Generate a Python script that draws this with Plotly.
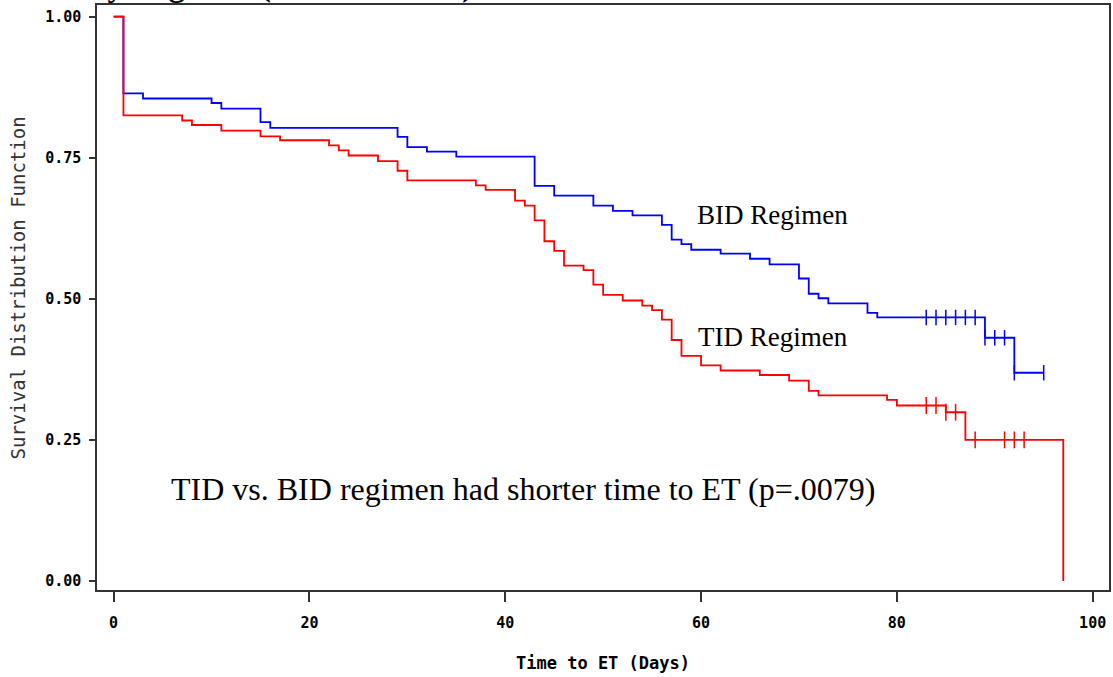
import plotly.graph_objects as go

# Kaplan-Meier step estimates, BID regimen
bid_days = [0, 1, 3, 10, 11, 15, 16, 29, 30, 32, 35, 43, 45, 49, 51, 53, 56, 57, 58, 59,
            62, 65, 67, 70, 71, 72, 73, 77, 78, 89, 92, 95]
bid_surv = [1.0, 0.864, 0.855, 0.847, 0.837, 0.813, 0.803, 0.787, 0.769, 0.761, 0.752,
            0.700, 0.683, 0.665, 0.656, 0.648, 0.631, 0.605, 0.597, 0.587, 0.580, 0.571,
            0.561, 0.536, 0.509, 0.501, 0.492, 0.475, 0.467, 0.431, 0.369, 0.369]
bid_cens_days = [83, 84, 85, 86, 87, 88, 89, 90, 91, 92, 95]
bid_cens_surv = [0.467, 0.467, 0.467, 0.467, 0.467, 0.467, 0.431, 0.431, 0.431, 0.369, 0.369]

# Kaplan-Meier step estimates, TID regimen
tid_days = [0, 1, 7, 8, 11, 15, 17, 22, 23, 24, 27, 29, 30, 37, 38, 41, 42, 43, 44, 45, 46,
            48, 49, 50, 52, 54, 55, 56, 57, 58, 60, 62, 66, 69, 71, 72, 79, 80, 85, 87, 97]
tid_surv = [1.0, 0.825, 0.816, 0.808, 0.798, 0.788, 0.781, 0.772, 0.763, 0.754, 0.744,
            0.727, 0.710, 0.701, 0.693, 0.674, 0.665, 0.639, 0.602, 0.585, 0.559, 0.551,
            0.525, 0.507, 0.497, 0.488, 0.480, 0.463, 0.427, 0.399, 0.382, 0.373, 0.365,
            0.355, 0.337, 0.329, 0.321, 0.311, 0.299, 0.250, 0.0]
tid_cens_days = [83, 84, 85, 86, 88, 91, 92, 93]
tid_cens_surv = [0.311, 0.311, 0.299, 0.299, 0.250, 0.250, 0.250, 0.250]

x_ticks = [0, 20, 40, 60, 80, 100]
y_ticks = [0.0, 0.25, 0.5, 0.75, 1.0]
y_tick_text = ["0.00", "0.25", "0.50", "0.75", "1.00"]

BLUE = "#0000FF"
RED = "#FF0000"
MONO = "DejaVu Sans Mono"
SERIF = "Liberation Serif"

fig = go.Figure()

fig.add_trace(go.Scatter(x=bid_days, y=bid_surv, mode="lines", line_shape="hv",
                         line=dict(color=BLUE, width=1.8), hoverinfo="skip"))
fig.add_trace(go.Scatter(x=bid_cens_days, y=bid_cens_surv, mode="markers",
                         marker=dict(symbol="line-ns", size=11,
                                     line=dict(color=BLUE, width=1.5)),
                         hoverinfo="skip"))
fig.add_trace(go.Scatter(x=tid_days, y=tid_surv, mode="lines", line_shape="hv",
                         line=dict(color=RED, width=1.8), hoverinfo="skip"))
fig.add_trace(go.Scatter(x=tid_cens_days, y=tid_cens_surv, mode="markers",
                         marker=dict(symbol="line-ns", size=12,
                                     line=dict(color=RED, width=1.5)),
                         hoverinfo="skip"))

# in-plot labels
fig.add_annotation(x=59.4, y=0.648, xref="x", yref="y", text="BID Regimen",
                   showarrow=False, xanchor="left", yanchor="middle",
                   font=dict(family=SERIF, size=27, color="black"))
fig.add_annotation(x=59.5, y=0.433, xref="x", yref="y", text="TID Regimen",
                   showarrow=False, xanchor="left", yanchor="middle",
                   font=dict(family=SERIF, size=27, color="black"))
fig.add_annotation(x=5.7, y=0.163, xref="x", yref="y",
                   text="TID vs. BID regimen had shorter time to ET (p=.0079)",
                   showarrow=False, xanchor="left", yanchor="middle",
                   font=dict(family=SERIF, size=32, color="black"))

# heading sitting above the top edge of the page
fig.add_annotation(x=-0.131, y=1.0337, xref="paper", yref="paper",
                   text="Survival by Regimen (Intent to treat)",
                   showarrow=False, xanchor="left", yanchor="middle",
                   font=dict(family=SERIF, size=32, color="black", weight="bold"))

# y-axis title placed as a rotated label
fig.add_annotation(x=-0.078, y=0.5155, xref="paper", yref="paper",
                   text="Survival Distribution Function", textangle=-90,
                   showarrow=False, xanchor="center", yanchor="middle",
                   font=dict(family=MONO, size=19, color="#333"))

fig.update_layout(
    width=1113, height=677,
    margin=dict(l=97, r=2, t=5, b=87),
    paper_bgcolor="white", plot_bgcolor="white",
    showlegend=False,
    xaxis=dict(
        range=[-1.70, 101.67], tickvals=x_ticks, ticks="outside", ticklen=10,
        tickwidth=1.5, tickcolor="#333", showgrid=False, zeroline=False,
        showline=True, linecolor="#333", linewidth=1.5, mirror=True,
        tickfont=dict(family=MONO, size=15, color="black", weight="bold"),
        ticklabelstandoff=8,
        title=dict(text="Time to ET (Days)", standoff=26,
                   font=dict(family=MONO, size=17, color="black", weight="bold")),
    ),
    yaxis=dict(
        range=[-0.016, 1.0207], tickvals=y_ticks, ticktext=y_tick_text,
        ticks="outside", ticklen=6, tickwidth=1.5, tickcolor="#333",
        showgrid=False, zeroline=False,
        showline=True, linecolor="#333", linewidth=1.5, mirror=True,
        tickfont=dict(family=MONO, size=15, color="black", weight="bold"),
        ticklabelstandoff=5,
    ),
)

fig.write_html("out.html")
